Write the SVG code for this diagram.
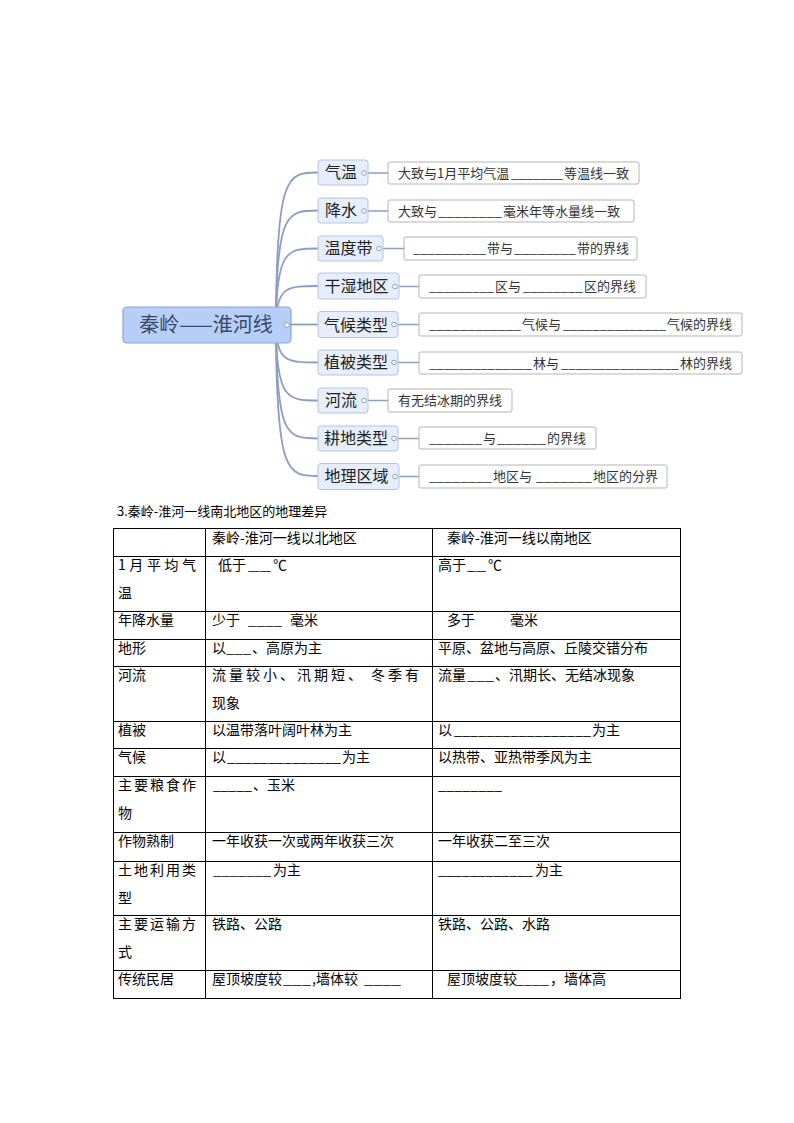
<svg xmlns="http://www.w3.org/2000/svg" width="794" height="1123" viewBox="0 0 794 1123">
<style>
text{font-family:"Noto Sans CJK SC","Noto Sans",sans-serif}
.conn{fill:none;stroke:#8c9ec4;stroke-width:1.8}
.leafc{fill:none;stroke:#8c9ec4;stroke-width:1.5}
.center{fill:#b7cef6;stroke:#88a6d8;stroke-width:1.2}
.ctext{font-size:20px;fill:#3a4868;text-anchor:middle}
.branch{fill:#e6eefb;stroke:#b3c4e2;stroke-width:1}
.btext{font-size:16px;fill:#222;text-anchor:middle}
.knob{fill:#fff;stroke:#8c9ec4;stroke-width:1}
.leaf{fill:#fff;stroke:#b4b4b4;stroke-width:1}
.ltext{font-size:13px;fill:#333}
.grid{stroke:#000;stroke-width:1;fill:none}
.t{font-size:14px;fill:#000}
.title{font-size:13px;fill:#000}
</style>
<rect width="794" height="1123" fill="#fff"/>

<g id="connectors">
<path class="conn" d="M276 325 C276 172.5 288 172.5 318 172.5"/>
<path class="conn" d="M276 325 C276 210.5 288 210.5 318 210.5"/>
<path class="conn" d="M276 325 C276 248.5 288 248.5 318 248.5"/>
<path class="conn" d="M276 325 C276 286 288 286 318 286"/>
<path class="conn" d="M291 324.5 L318 324.5"/>
<path class="conn" d="M276 325 C276 362.5 288 362.5 318 362.5"/>
<path class="conn" d="M276 325 C276 400.5 288 400.5 318 400.5"/>
<path class="conn" d="M276 325 C276 438.5 288 438.5 318 438.5"/>
<path class="conn" d="M276 325 C276 476 288 476 318 476"/>
<path class="leafc" d="M366 173 H388"/>
<path class="leafc" d="M366 211 H388"/>
<path class="leafc" d="M381 248.5 H404"/>
<path class="leafc" d="M397 286.5 H419"/>
<path class="leafc" d="M396 324.5 H419"/>
<path class="leafc" d="M396 362.5 H419"/>
<path class="leafc" d="M366 400.5 H388"/>
<path class="leafc" d="M396 438.5 H419"/>
<path class="leafc" d="M397 476.5 H419"/>
</g>

<g id="center">
<rect class="center" x="123" y="307" width="168" height="36" rx="4"/>
<text class="ctext" x="206" y="332">秦岭——淮河线</text>
<circle class="knob" cx="287" cy="325" r="2.5"/>
</g>

<g id="b1"><rect class="branch" x="318" y="160" width="50" height="25" rx="3"/><text class="btext" x="341" y="178">气温</text><circle class="knob" cx="364" cy="173" r="2.3"/></g>
<g id="b2"><rect class="branch" x="318" y="198" width="50" height="25" rx="3"/><text class="btext" x="341" y="216">降水</text><circle class="knob" cx="364" cy="211" r="2.3"/></g>
<g id="b3"><rect class="branch" x="318" y="236" width="65" height="25" rx="3"/><text class="btext" x="348.5" y="254">温度带</text><circle class="knob" cx="379" cy="248.5" r="2.3"/></g>
<g id="b4"><rect class="branch" x="318" y="273" width="81" height="26" rx="3"/><text class="btext" x="356.5" y="292">干湿地区</text><circle class="knob" cx="395" cy="286.5" r="2.3"/></g>
<g id="b5"><rect class="branch" x="318" y="311.5" width="80" height="26" rx="3"/><text class="btext" x="356" y="330.5">气候类型</text><circle class="knob" cx="394" cy="324.5" r="2.3"/></g>
<g id="b6"><rect class="branch" x="318" y="350" width="80" height="25" rx="3"/><text class="btext" x="356" y="368">植被类型</text><circle class="knob" cx="394" cy="362.5" r="2.3"/></g>
<g id="b7"><rect class="branch" x="318" y="388" width="50" height="25" rx="3"/><text class="btext" x="341" y="406">河流</text><circle class="knob" cx="364" cy="400.5" r="2.3"/></g>
<g id="b8"><rect class="branch" x="318" y="426" width="80" height="25" rx="3"/><text class="btext" x="356" y="444">耕地类型</text><circle class="knob" cx="394" cy="438.5" r="2.3"/></g>
<g id="b9"><rect class="branch" x="318" y="463.5" width="81" height="26" rx="3"/><text class="btext" x="356.5" y="482">地理区域</text><circle class="knob" cx="395" cy="476.5" r="2.3"/></g>

<g id="l1"><rect class="leaf" x="388" y="162" width="251" height="22" rx="2"/>
<text class="ltext" y="178"><tspan x="398">大致与1月平均气温</tspan><tspan x="511" textLength="52" lengthAdjust="spacingAndGlyphs">_______</tspan><tspan x="564">等温线一致</tspan></text></g>
<g id="l2"><rect class="leaf" x="388" y="200" width="246" height="22" rx="2"/>
<text class="ltext" y="216"><tspan x="398">大致与</tspan><tspan x="438" textLength="64" lengthAdjust="spacingAndGlyphs">________</tspan><tspan x="503">毫米年等水量线一致</tspan></text></g>
<g id="l3"><rect class="leaf" x="404" y="237" width="233" height="23" rx="2"/>
<text class="ltext" y="253"><tspan x="413" textLength="73" lengthAdjust="spacingAndGlyphs">__________</tspan><tspan x="487">带与</tspan><tspan x="514" textLength="62" lengthAdjust="spacingAndGlyphs">________</tspan><tspan x="577">带的界线</tspan></text></g>
<g id="l4"><rect class="leaf" x="419" y="275" width="227" height="23" rx="2"/>
<text class="ltext" y="291"><tspan x="429" textLength="65" lengthAdjust="spacingAndGlyphs">_________</tspan><tspan x="495">区与</tspan><tspan x="523" textLength="60" lengthAdjust="spacingAndGlyphs">________</tspan><tspan x="584">区的界线</tspan></text></g>
<g id="l5"><rect class="leaf" x="419" y="313" width="323" height="23" rx="2"/>
<text class="ltext" y="329"><tspan x="429" textLength="92" lengthAdjust="spacingAndGlyphs">____________</tspan><tspan x="522">气候与</tspan><tspan x="563" textLength="103" lengthAdjust="spacingAndGlyphs">______________</tspan><tspan x="667">气候的界线</tspan></text></g>
<g id="l6"><rect class="leaf" x="419" y="352" width="323" height="22" rx="2"/>
<text class="ltext" y="367.5"><tspan x="429" textLength="103" lengthAdjust="spacingAndGlyphs">______________</tspan><tspan x="533">林与</tspan><tspan x="561" textLength="118" lengthAdjust="spacingAndGlyphs">________________</tspan><tspan x="680">林的界线</tspan></text></g>
<g id="l7"><rect class="leaf" x="388" y="389" width="124" height="23" rx="2"/>
<text class="ltext" x="398" y="405">有无结冰期的界线</text></g>
<g id="l8"><rect class="leaf" x="419" y="427" width="177" height="22" rx="2"/>
<text class="ltext" y="443"><tspan x="429" textLength="53" lengthAdjust="spacingAndGlyphs">_______</tspan><tspan x="483">与</tspan><tspan x="497" textLength="49" lengthAdjust="spacingAndGlyphs">______</tspan><tspan x="547">的界线</tspan></text></g>
<g id="l9"><rect class="leaf" x="419" y="465" width="248" height="23" rx="2"/>
<text class="ltext" y="481"><tspan x="429" textLength="63" lengthAdjust="spacingAndGlyphs">________</tspan><tspan x="493">地区与</tspan><tspan x="536" textLength="56" lengthAdjust="spacingAndGlyphs">_______</tspan><tspan x="593">地区的分界</tspan></text></g>

<g id="table">
<text class="title" x="117" y="516">3.秦岭-淮河一线南北地区的地理差异</text>
<rect class="grid" x="113.5" y="528.5" width="567" height="470"/>
<path class="grid" d="M205.5 528.5 V998.5 M432.5 528.5 V998.5 M113.5 556.5 H680.5 M113.5 611.5 H680.5 M113.5 639.5 H680.5 M113.5 666.5 H680.5 M113.5 721.5 H680.5 M113.5 748.5 H680.5 M113.5 776.5 H680.5 M113.5 832.5 H680.5 M113.5 861.5 H680.5 M113.5 915.5 H680.5 M113.5 970.5 H680.5"/>

<text class="t" x="212" y="543">秦岭-淮河一线以北地区</text>
<text class="t" x="447" y="543">秦岭-淮河一线以南地区</text>

<text class="t" x="118" y="570" textLength="78" lengthAdjust="spacing">1月平均气</text>
<text class="t" x="118" y="598">温</text>
<text class="t" y="570"><tspan x="218">低于</tspan><tspan x="248" textLength="23" lengthAdjust="spacingAndGlyphs">__</tspan><tspan x="273">℃</tspan></text>
<text class="t" y="570"><tspan x="438">高于</tspan><tspan x="467" textLength="19" lengthAdjust="spacingAndGlyphs">__</tspan><tspan x="488">℃</tspan></text>

<text class="t" x="118" y="625">年降水量</text>
<text class="t" y="625"><tspan x="212">少于</tspan><tspan x="248" textLength="34" lengthAdjust="spacingAndGlyphs">____</tspan><tspan x="290">毫米</tspan></text>
<text class="t" y="625"><tspan x="447">多于</tspan><tspan x="510">毫米</tspan></text>

<text class="t" x="118" y="653">地形</text>
<text class="t" y="653"><tspan x="212">以</tspan><tspan x="226" textLength="25" lengthAdjust="spacingAndGlyphs">___</tspan><tspan x="252">、高原为主</tspan></text>
<text class="t" x="438" y="653">平原、盆地与高原、丘陵交错分布</text>

<text class="t" x="118" y="680">河流</text>
<text class="t" x="212" y="680" textLength="207" lengthAdjust="spacing">流量较小、汛期短、 冬季有</text>
<text class="t" x="212" y="708">现象</text>
<text class="t" y="680"><tspan x="438">流量</tspan><tspan x="467" textLength="27" lengthAdjust="spacingAndGlyphs">___</tspan><tspan x="495">、汛期长、无结冰现象</tspan></text>

<text class="t" x="118" y="735">植被</text>
<text class="t" x="212" y="735">以温带落叶阔叶林为主</text>
<text class="t" y="735"><tspan x="438">以</tspan><tspan x="454" textLength="137" lengthAdjust="spacingAndGlyphs">_________________</tspan><tspan x="592">为主</tspan></text>

<text class="t" x="118" y="762">气候</text>
<text class="t" y="762"><tspan x="212">以</tspan><tspan x="227" textLength="114" lengthAdjust="spacingAndGlyphs">______________</tspan><tspan x="342">为主</tspan></text>
<text class="t" x="438" y="762">以热带、亚热带季风为主</text>

<text class="t" x="118" y="790" textLength="78" lengthAdjust="spacing">主要粮食作</text>
<text class="t" x="118" y="818">物</text>
<text class="t" y="790"><tspan x="213" textLength="39" lengthAdjust="spacingAndGlyphs">_____</tspan><tspan x="253">、玉米</tspan></text>
<text class="t" y="790"><tspan x="438" textLength="64" lengthAdjust="spacingAndGlyphs">________</tspan></text>

<text class="t" x="118" y="846">作物熟制</text>
<text class="t" x="212" y="846">一年收获一次或两年收获三次</text>
<text class="t" x="438" y="846">一年收获二至三次</text>

<text class="t" x="118" y="875" textLength="78" lengthAdjust="spacing">土地利用类</text>
<text class="t" x="118" y="903">型</text>
<text class="t" y="875"><tspan x="213" textLength="58" lengthAdjust="spacingAndGlyphs">_______</tspan><tspan x="273">为主</tspan></text>
<text class="t" y="875"><tspan x="438" textLength="95" lengthAdjust="spacingAndGlyphs">____________</tspan><tspan x="535">为主</tspan></text>

<text class="t" x="118" y="929" textLength="78" lengthAdjust="spacing">主要运输方</text>
<text class="t" x="118" y="957">式</text>
<text class="t" x="212" y="929">铁路、公路</text>
<text class="t" x="438" y="929">铁路、公路、水路</text>

<text class="t" x="118" y="984">传统民居</text>
<text class="t" y="984"><tspan x="212">屋顶坡度较</tspan><tspan x="283" textLength="28" lengthAdjust="spacingAndGlyphs">___</tspan><tspan x="312">,墙体较</tspan><tspan x="364" textLength="37" lengthAdjust="spacingAndGlyphs">____</tspan></text>
<text class="t" y="984"><tspan x="447">屋顶坡度较</tspan><tspan x="516" textLength="33" lengthAdjust="spacingAndGlyphs">____</tspan><tspan x="550">，墙体高</tspan></text>
</g>
</svg>
